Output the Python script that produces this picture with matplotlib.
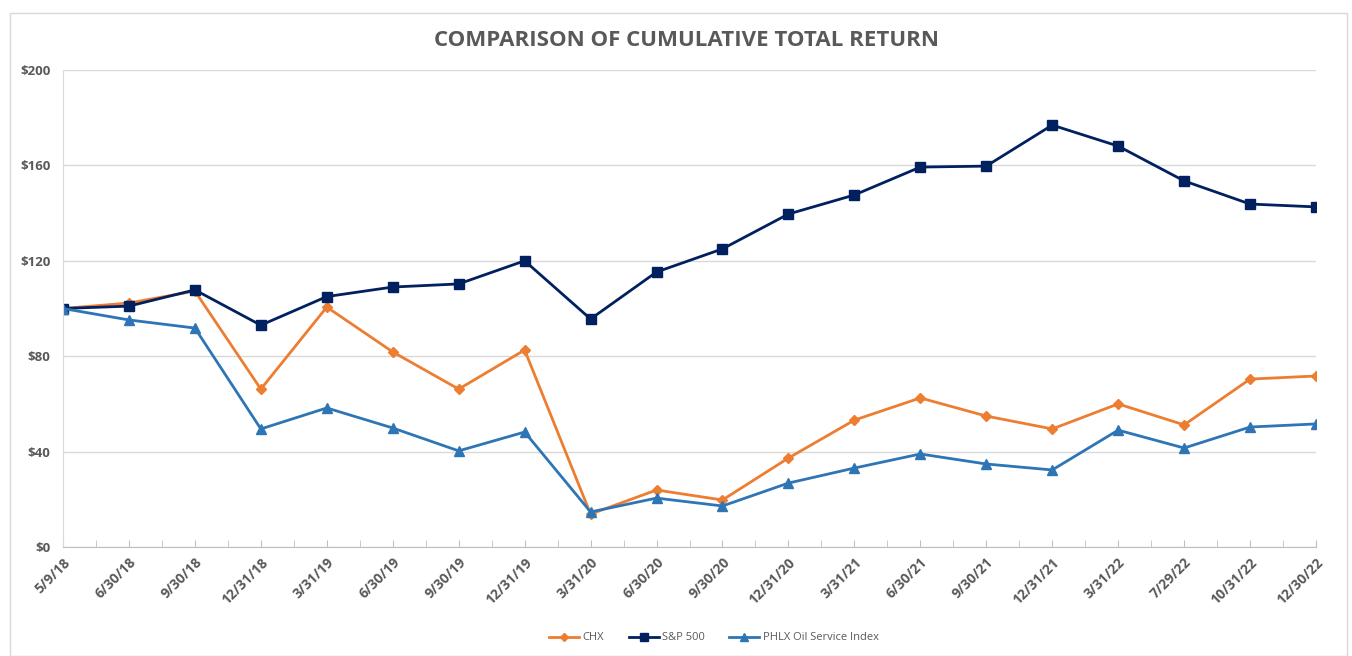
import matplotlib.pyplot as plt
from matplotlib.patches import Rectangle
from matplotlib.ticker import FuncFormatter, MultipleLocator

plt.rcParams['font.family'] = ['Open Sans', 'DejaVu Sans']

dates = ['5/9/18', '6/30/18', '9/30/18', '12/31/18', '3/31/19', '6/30/19', '9/30/19',
         '12/31/19', '3/31/20', '6/30/20', '9/30/20', '12/31/20', '3/31/21', '6/30/21',
         '9/30/21', '12/31/21', '3/31/22', '7/29/22', '10/31/22', '12/30/22']

chx = [100, 102.3, 107.3, 66.2, 100.6, 81.8, 66.2, 82.6, 13.8, 23.9,
       19.7, 37.3, 53.2, 62.5, 54.9, 49.5, 60.0, 51.2, 70.4, 71.7]
sp500 = [100, 101, 107.8, 93, 105, 109, 110.3, 120, 95.6, 115.3,
         125, 139.6, 147.6, 159.3, 159.7, 176.9, 168.1, 153.5, 143.8, 142.6]
phlx = [100, 95.2, 91.8, 49.5, 58.3, 49.9, 40.3, 48.2, 14.7, 20.5,
        17.2, 26.8, 33.1, 39.0, 34.8, 32.3, 49.0, 41.5, 50.3, 51.6]

fig = plt.figure(figsize=(13.52, 6.56), dpi=100)
ax = fig.add_axes([63 / 1352, 1 - 547 / 656, (1316 - 63) / 1352, (547 - 70) / 656])

# outer chart border
fig.patches.append(Rectangle((10 / 1352, 0), 1337 / 1352, 1 - 13 / 656,
                             transform=fig.transFigure, fill=False,
                             edgecolor='#D9D9D9', linewidth=1))

x = list(range(len(dates)))
ax.plot(x, chx, color='#ED7D31', marker='D', markersize=5, linewidth=2, label='CHX')
ax.plot(x, sp500, color='#002060', marker='s', markersize=7, linewidth=2, label='S&P 500')
ax.plot(x, phlx, color='#2E75B6', marker='^', markersize=7, linewidth=2,
        label='PHLX Oil Service Index')

ax.set_xlim(0, len(dates) - 1)
ax.set_ylim(0, 200)
ax.yaxis.set_major_locator(MultipleLocator(40))
ax.yaxis.set_major_formatter(FuncFormatter(lambda v, p: f'${v:.0f}'))
ax.grid(axis='y', color='#D9D9D9', linewidth=1)
ax.set_axisbelow(True)

ax.set_xticks(x)
ax.set_xticklabels(dates, rotation=45, ha='right', rotation_mode='anchor')
ax.set_xticks([i + 0.5 for i in x[:-1]], minor=True)

for s in ['top', 'right']:
    ax.spines[s].set_visible(False)
ax.spines['left'].set_color('#D9D9D9')
ax.spines['bottom'].set_color('#BFBFBF')

ax.tick_params(axis='y', length=0, labelsize=9.5, labelcolor='#595959', pad=9)
ax.tick_params(axis='x', which='both', direction='in', length=5, color='#BFBFBF',
               labelsize=10, labelcolor='#595959', pad=6)
for lbl in ax.get_xticklabels() + ax.get_yticklabels():
    lbl.set_fontweight('bold')

fig.text(686 / 1352, 1 - 40 / 656, 'COMPARISON OF CUMULATIVE TOTAL RETURN', ha='center',
         va='center', fontsize=16, fontweight='bold', color='#595959')

fig.legend(loc='center', bbox_to_anchor=(714 / 1352, 1 - 638 / 656), ncol=3, frameon=False,
           fontsize=8, handlelength=2.7, handletextpad=0.3, columnspacing=2.2,
           labelcolor='#595959', markerscale=0.8)

fig.savefig('out.png', dpi=100)
